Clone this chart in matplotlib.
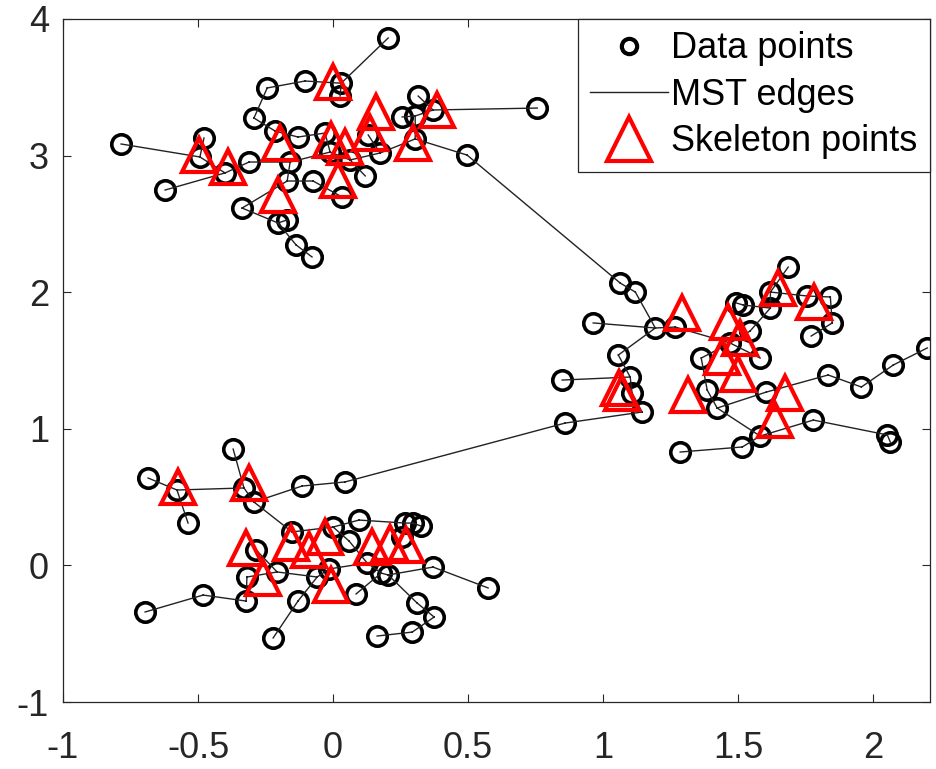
import numpy as np
import matplotlib
matplotlib.use("Agg")
import matplotlib.pyplot as plt

plt.rcParams["font.family"] = ["Liberation Sans", "DejaVu Sans"]
plt.rcParams["axes.unicode_minus"] = False

# data points (three clusters)
upper_x = [0.204, -0.785, -0.622, -0.478, -0.337, -0.293, -0.244, -0.104, 0.026, -0.400,
           -0.311, -0.215, -0.130, -0.159, -0.170, -0.074, -0.030, 0.033, -0.204, -0.170,
           -0.137, -0.078, 0.756, 0.496, 0.315, 0.256, 0.304, 0.130, 0.174, 0.119,
           0.063, 0.304, -0.011, 0.370, -0.493, 0.030]
upper_y = [3.861, 3.085, 2.748, 3.129, 2.616, 3.275, 3.495, 3.546, 3.436, 2.873,
           2.953, 3.180, 3.136, 2.953, 2.814, 2.814, 3.165, 2.697, 2.507, 2.529,
           2.346, 2.258, 3.348, 3.004, 3.436, 3.283, 3.290, 3.151, 3.019, 2.851,
           2.968, 3.122, 3.026, 3.334, 2.990, 3.530]
right_x = [1.063, 1.119, 1.685, 1.619, 1.619, 1.756, 1.841, 1.848, 1.770, 1.493,
           1.519, 0.963, 1.193, 1.267, 1.544, 1.581, 1.363, 1.056, 1.100, 1.107,
           1.144, 0.848, 0.859, 1.385, 1.422, 1.604, 1.833, 1.956, 2.074, 2.200,
           1.778, 2.052, 2.063, 1.515, 1.581, 1.285, 1.470]
right_y = [2.067, 2.001, 2.184, 2.001, 1.884, 1.972, 1.965, 1.775, 1.679, 1.921,
           1.906, 1.775, 1.738, 1.745, 1.716, 1.518, 1.518, 1.540, 1.379, 1.262,
           1.123, 1.357, 1.042, 1.284, 1.152, 1.269, 1.394, 1.306, 1.467, 1.592,
           1.064, 0.955, 0.903, 0.867, 0.947, 0.830, 1.628]
lower_x = [-0.685, -0.370, -0.293, -0.115, 0.044, -0.537, -0.696, -0.481, -0.322, -0.130,
           -0.222, 0.163, 0.293, 0.000, 0.096, 0.059, -0.319, -0.207, -0.059, -0.015,
           0.085, -0.152, -0.285, 0.267, 0.296, 0.326, 0.256, 0.370, 0.574, 0.311,
           0.374, 0.178, 0.204, 0.126, -0.578, -0.330]
lower_y = [0.640, 0.852, 0.464, 0.581, 0.611, 0.310, -0.341, -0.217, -0.261, -0.261,
           -0.531, -0.517, -0.488, 0.281, 0.332, 0.179, -0.085, -0.048, -0.085, -0.026,
           -0.209, 0.245, 0.113, 0.310, 0.310, 0.288, 0.208, -0.012, -0.165, -0.275,
           -0.378, -0.056, -0.070, 0.018, 0.552, 0.567]

# skeleton points
skel_x = [0.000, 0.159, 0.385, 0.296, -0.196, -0.007, 0.044, 0.137, 0.019, -0.204, -0.496, -0.389,
          1.293, 1.463, 1.507, 1.441, 1.500, 1.648, 1.781, 1.059, 1.070, 1.315, 1.674, 1.637,
          -0.574, -0.311, -0.322, -0.259, -0.156, -0.089, -0.030, -0.007, 0.144, 0.211, 0.270]
skel_y = [3.539, 3.319, 3.334, 3.092, 3.092, 3.114, 3.063, 3.165, 2.821, 2.712, 3.004, 2.917,
          1.848, 1.782, 1.665, 1.526, 1.401, 2.031, 1.928, 1.299, 1.262, 1.247, 1.262, 1.064,
          0.574, 0.603, 0.127, -0.092, 0.164, 0.113, 0.208, -0.143, 0.135, 0.164, 0.149]

x_ticks = [-1, -0.5, 0, 0.5, 1, 1.5, 2]
x_tick_labels = ["-1", "-0.5", "0", "0.5", "1", "1.5", "2"]
y_ticks = [-1, 0, 1, 2, 3, 4]
y_tick_labels = ["-1", "0", "1", "2", "3", "4"]

pts = np.column_stack([upper_x + right_x + lower_x, upper_y + right_y + lower_y])

# minimum spanning tree (Prim) over the data points
n = len(pts)
dist = np.sqrt(((pts[:, None, :] - pts[None, :, :]) ** 2).sum(-1))
in_tree = np.zeros(n, bool)
in_tree[0] = True
best = dist[0].copy()
parent = np.zeros(n, int)
edges = []
for _ in range(n - 1):
    cand = np.where(in_tree, np.inf, best)
    j = int(np.argmin(cand))
    edges.append((parent[j], j))
    in_tree[j] = True
    upd = dist[j] < best
    parent[upd] = j
    best = np.minimum(best, dist[j])

ex, ey = [], []
for i, j in edges:
    ex += [pts[i, 0], pts[j, 0], np.nan]
    ey += [pts[i, 1], pts[j, 1], np.nan]

fig = plt.figure(figsize=(9.36, 7.69), dpi=100)
ax = fig.add_axes([0.0673, 0.0871, 0.9263, 0.8882])

ax.plot(pts[:, 0], pts[:, 1], "o", ms=14, mfc="none", mec="black", mew=2.6, ls="none",
        label="Data points")
ax.plot(ex, ey, "-", color="#222222", lw=1.0, label="MST edges")
ax.plot(skel_x, skel_y, "^", ms=24, mfc="none", mec="#ff0000", mew=3.0, ls="none",
        label="Skeleton points")

ax.set_xlim(-1, 2.21)
ax.set_ylim(-1, 4)
ax.set_xticks(x_ticks)
ax.set_xticklabels(x_tick_labels)
ax.set_yticks(y_ticks)
ax.set_yticklabels(y_tick_labels)
ax.tick_params(direction="in", length=6, width=0.8, labelsize=26, colors="#262626",
               top=True, right=True, pad=10)
ax.tick_params(axis="x", pad=21)
for s in ax.spines.values():
    s.set_color("#262626")
    s.set_linewidth(0.9)

leg = ax.legend(loc="upper right", bbox_to_anchor=(1.0, 1.0), borderaxespad=0,
                fontsize=26, fancybox=False, framealpha=1, edgecolor="#262626",
                handlelength=2.15, handletextpad=0.1, labelspacing=0.32, borderpad=0.34)
leg.get_frame().set_linewidth(0.9)
hs = leg.legend_handles
hs[0].set_markersize(11)
hs[0].set_markeredgewidth(3.0)
hs[2].set_markersize(31)

fig.savefig("out.png", dpi=100)
